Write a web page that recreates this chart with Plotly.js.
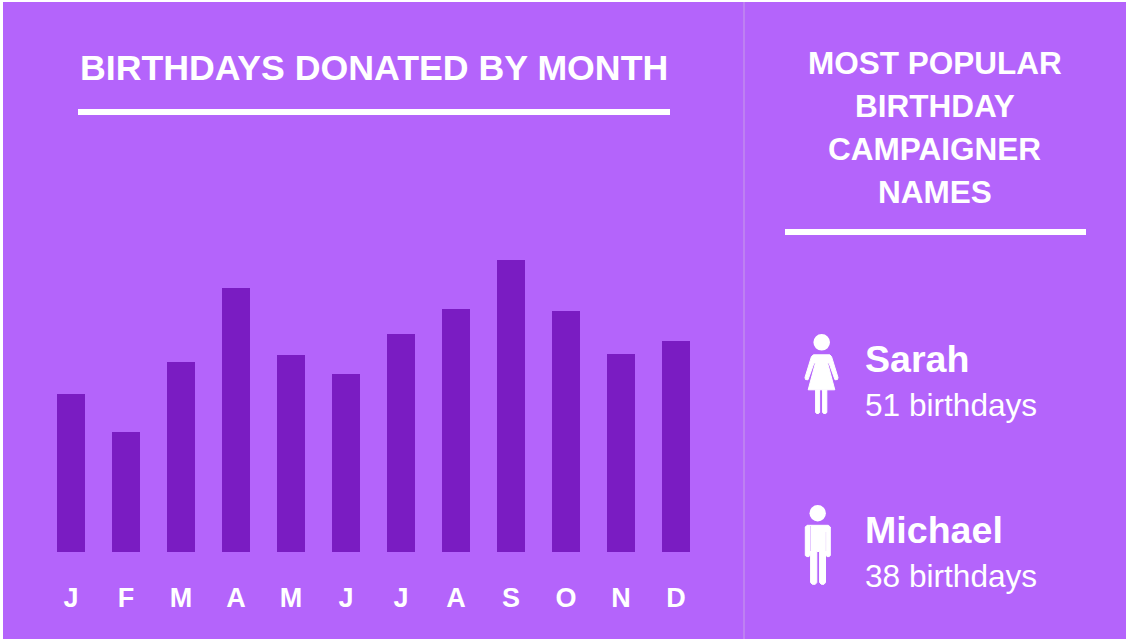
<!DOCTYPE html>
<html>
<head>
<meta charset="utf-8">
<script src="https://cdn.plot.ly/plotly-3.0.1.min.js"></script>
<style>html,body{margin:0;padding:0;background:#fff}#c{width:1126px;height:639px}</style>
</head>
<body>
<div id="c"></div>
<script>
const monthLabels = ['J','F','M','A','M','J','J','A','S','O','N','D'];
const birthdays = [158,120,190,264,197,178,218,243,292,241,198,211];
const names = ['Sarah','Michael'];
const nameCounts = ['51 birthdays','38 birthdays'];
const W = 1126, H = 639;
const PURPLE = '#B464FB', DARK = '#7A1CC2', FONT = '"Liberation Sans", Arial, sans-serif';
const px = x => x / W, py = y => 1 - y / H;

function rect(x0, y0, x1, y1, color, layer) {
  return {type:'rect', xref:'paper', yref:'paper', x0:px(x0), x1:px(x1), y0:py(y0), y1:py(y1),
          fillcolor:color, line:{width:0}, layer:layer || 'below'};
}
function poly(pts) {
  const d = pts.map((p,i) => (i ? 'L' : 'M') + px(p[0]).toFixed(5) + ',' + py(p[1]).toFixed(5)).join(' ') + ' Z';
  return {type:'path', xref:'paper', yref:'paper', path:d, fillcolor:'#fff', line:{color:'#fff', width:1}, layer:'above'};
}
function circle(cx, cy, r) {
  return {type:'circle', xref:'paper', yref:'paper', x0:px(cx-r), x1:px(cx+r), y0:py(cy+r), y1:py(cy-r),
          fillcolor:'#fff', line:{width:0}, layer:'above'};
}
const womanIcon = [
  circle(821.7, 342.3, 8.3),
  poly([[813.5,354.8],[829.8,354.8],[831.5,356.5],[838,377.5],[837.5,379.5],[835,379.8],[829,363],[827.6,363],[834.8,389.8],[808.2,389.8],[815.4,363],[814,363],[808,379.8],[805.5,379.5],[805,377.5],[811.5,356.5]]),
  poly([[815.6,390],[819.6,390],[819.6,412.5],[818.6,413.5],[816.6,413.5],[815.6,412.5]]),
  poly([[822.6,390],[826.8,390],[826.8,412.5],[825.8,413.5],[823.6,413.5],[822.6,412.5]])
];
const manIcon = [
  circle(817.7, 513.2, 8.2),
  poly([[807,525.3],[828.3,525.3],[830.3,527],[830.3,555.5],[829.3,556.6],[827,556.6],[826,555.5],[825.5,551],[825.5,582.5],[824,584.3],[821.3,584.3],[819.6,582.5],[819.6,551.5],[816.8,551.5],[816.8,582.5],[815.3,584.3],[812.3,584.3],[810.6,582.5],[810.6,551],[810,555.5],[809,556.6],[806.6,556.6],[805.3,555.5],[805.3,527]]),
  rect(810, 526, 811, 551, 'rgba(181,100,251,0.35)', 'above'),
  rect(825.6, 532, 826.2, 551, 'rgba(181,100,251,0.25)', 'above')
];

const shapes = [
  rect(3, 2, W, H, PURPLE),
  rect(743, 2, 745, H, '#BE80F2'),
  rect(78, 109, 670, 115, '#fff', 'above'),
  rect(785, 229, 1086, 235, '#fff', 'above'),
  ...womanIcon, ...manIcon
];

function label(text, x, y, size, bold, anchor) {
  return {text: bold ? '<b>' + text + '</b>' : text, xref:'paper', yref:'paper', x:px(x), y:py(y),
          xanchor:anchor || 'center', yanchor:'middle', showarrow:false,
          font:{family:FONT, size:size, color:'#fff'}};
}
const rightTitle = ['MOST POPULAR','BIRTHDAY','CAMPAIGNER','NAMES'];
const annotations = [
  label('BIRTHDAYS DONATED BY MONTH', 374, 68, 35.7, true),
  ...rightTitle.map((t,i) => label(t, 935, 63 + i*43, 31.5, true)),
  label(names[0], 863, 359, 37.6, true, 'left'),
  label(nameCounts[0], 863, 405, 31.6, false, 'left'),
  label(names[1], 863, 530, 37.6, true, 'left'),
  label(nameCounts[1], 863, 576, 31.6, false, 'left')
];

const positions = monthLabels.map((_, i) => i);
Plotly.newPlot('c', [{
  type:'bar', x:positions, y:birthdays, width:0.509,
  marker:{color:DARK, line:{width:0}}, hoverinfo:'y'
}], {
  width:W, height:H, autosize:false,
  margin:{l:0, r:0, t:0, b:0, pad:0},
  paper_bgcolor:'#fff', plot_bgcolor:'rgba(0,0,0,0)',
  showlegend:false,
  xaxis:{domain:[px(43.5), px(703.5)], range:[-0.5,11.5], tickmode:'array', tickvals:positions, ticktext:monthLabels,
         showgrid:false, zeroline:false, showline:false, ticks:'', ticklabelstandoff:27, fixedrange:true,
         tickfont:{family:FONT, size:27, color:'#fff', weight:'bold'}, anchor:'y'},
  yaxis:{domain:[py(552), py(252)], range:[0,300], showgrid:false, zeroline:false, showline:false, showticklabels:false, ticks:'', fixedrange:true},
  shapes, annotations
}, {displayModeBar:false, staticPlot:true});
</script>
</body>
</html>
